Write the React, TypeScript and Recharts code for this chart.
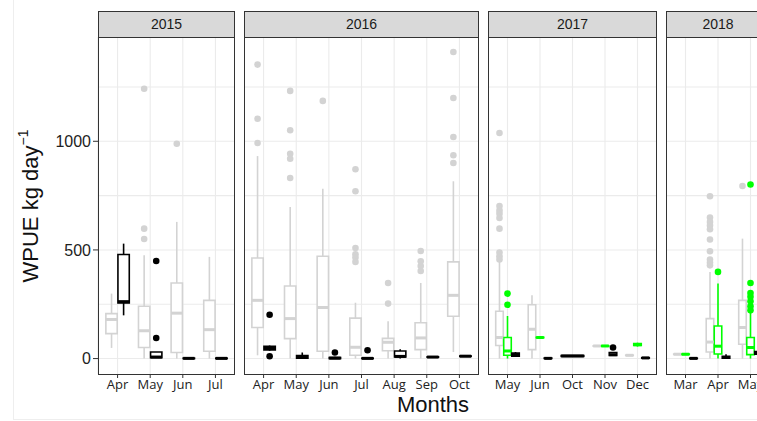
import React from 'react'
import {
  ComposedChart, XAxis, YAxis, CartesianGrid,
  ReferenceArea, ReferenceLine, Scatter,
} from 'recharts'

// box = [lower whisker, q1, median, q3, upper whisker], null where a group has no data
type Box = [number, number, number, number, number] | null

// 2015
const months2015 = ['Apr', 'May', 'Jun', 'Jul']
const gray2015: Box[] = [[49, 115, 180, 207, 299], [0, 51, 128, 241, 475], [0, 28, 209, 348, 629], [0, 34, 133, 268, 468]]
const green2015: Box[] = [null, null, null, null]
const black2015: Box[] = [[199, 256, 262, 479, 529], [3, 4, 7, 30, 30], [0, 0, 1, 2, 4], [0, 0, 1, 2, 4]]
const grayOut2015 = [[], [1242, 598, 550], [989], []]
const greenOut2015 = [[], [], [], []]
const blackOut2015 = [[], [449, 95], [], []]

// 2016
const months2016 = ['Apr', 'May', 'Jun', 'Jul', 'Aug', 'Sep', 'Oct']
const gray2016: Box[] = [
  [15, 143, 268, 463, 932], [0, 92, 184, 334, 698], [0, 34, 235, 471, 782], [0, 15, 52, 186, 257],
  [0, 36, 75, 93, 172], [0, 41, 95, 165, 348], [30, 195, 291, 445, 816],
]
const green2016: Box[] = [null, null, null, null, null, null, null]
const black2016: Box[] = [
  [36, 40, 49, 56, 60], [0, 2, 6, 14, 28], [0, 0, 2, 5, 8], [0, 0, 1, 2, 4],
  [0, 7, 10, 35, 43], [5, 6, 7, 8, 9], [9, 10, 11, 12, 13],
]
const grayOut2016 = [
  [1353, 1104, 992], [1232, 1051, 943, 920, 831], [1186], [871, 770, 509, 480, 465, 445],
  [348, 253], [495, 448, 426, 403], [1411, 1199, 1020, 936, 900],
]
const greenOut2016 = [[], [], [], [], [], [], []]
const blackOut2016 = [[202, 11], [], [28], [38], [], [], []]

// 2017
const months2017 = ['May', 'Jun', 'Oct', 'Nov', 'Dec']
const gray2017: Box[] = [[0, 60, 97, 218, 445], [0, 41, 135, 248, 291], null, [56, 57, 58, 59, 60], [13, 14, 15, 16, 17]]
const green2017: Box[] = [[0, 15, 35, 97, 196], [95, 96, 97, 98, 99], null, [56, 57, 58, 59, 60], [55, 60, 64, 69, 73]]
const black2017: Box[] = [[8, 11, 16, 25, 30], [0, 0, 1, 2, 3], [9, 10, 12, 14, 15], [12, 14, 18, 28, 30], [1, 2, 3, 4, 5]]
const grayOut2017 = [[1038, 702, 682, 667, 647, 598, 488, 471, 456], [], [], [], []]
const greenOut2017 = [[299, 248], [], [], [], []]
const blackOut2017 = [[], [], [], [51], []]

// 2018
const months2018 = ['Mar', 'Apr', 'May']
const gray2018: Box[] = [[18, 19, 20, 21, 22], [0, 30, 76, 184, 399], [0, 66, 143, 268, 552]]
const green2018: Box[] = [[18, 19, 20, 21, 22], [0, 21, 57, 150, 345], [0, 18, 51, 97, 210]]
const black2018: Box[] = [[0, 0, 1, 2, 3], [0, 2, 5, 11, 20], [0, 20, 26, 32, 40]]
const grayOut2018 = [[], [747, 649, 629, 613, 595, 548, 494, 456, 442, 429], [794]]
const greenOut2018 = [[], [399], [801, 348, 302, 284, 264, 241, 222]]
const blackOut2018 = [[], [], []]

const yTicks = [0, 500, 1000]
const yGrid = [0, 250, 500, 750, 1000, 1250]
const Y_DOMAIN: [number, number] = [-71, 1480]

const COLORS = ['#d3d3d3', '#00ff00', '#000000']
const DODGE = 0.74
const PLOT_TOP = 37
const PLOT_H = 337
const X_H = 30
const Y_W = 60
const FONT = '"Liberation Sans", Arial, sans-serif'

const PANELS = [
  { year: '2015', months: months2015, boxes: [gray2015, green2015, black2015], out: [grayOut2015, greenOut2015, blackOut2015], left: 98, width: 137 },
  { year: '2016', months: months2016, boxes: [gray2016, green2016, black2016], out: [grayOut2016, greenOut2016, blackOut2016], left: 244, width: 235 },
  { year: '2017', months: months2017, boxes: [gray2017, green2017, black2017], out: [grayOut2017, greenOut2017, blackOut2017], left: 488, width: 169 },
  { year: '2018', months: months2018, boxes: [gray2018, green2018, black2018], out: [grayOut2018, greenOut2018, blackOut2018], left: 666, width: 104 },
]

type Panel = typeof PANELS[number]

function FacetPanel({ p, first }: { p: Panel; first: boolean }) {
  const n = p.months.length
  const ticks = p.months.map((_, i) => i + 1)
  const yW = first ? Y_W : 0

  // dodge the groups present at each month, like position_dodge
  const marks: { g: number; i: number; cx: number; w: number; s: number[] }[] = []
  p.months.forEach((_, i) => {
    const present = [0, 1, 2].filter((g) => p.boxes[g][i])
    const w = DODGE / present.length
    present.forEach((g, j) => {
      marks.push({ g, i, cx: i + 1 - DODGE / 2 + (j + 0.5) * w, w, s: p.boxes[g][i] as number[] })
    })
  })
  const points = [0, 1, 2].map((g) =>
    marks.filter((m) => m.g === g).flatMap((m) => p.out[g][m.i].map((v) => ({ x: m.cx, y: v }))),
  )

  return (
    <>
      <div
        style={{
          position: 'absolute', left: p.left, top: 11, width: p.width, height: 27,
          boxSizing: 'border-box', background: '#d9d9d9', border: '1px solid #333',
          font: `14px ${FONT}`, color: '#1a1a1a', textAlign: 'center', lineHeight: '25px',
        }}
      >
        {p.year}
      </div>
      <div style={{ position: 'absolute', left: p.left - yW, top: PLOT_TOP }}>
        <ComposedChart width={p.width + yW} height={PLOT_H + X_H} margin={{ top: 0, right: 0, bottom: 0, left: 0 }}>
          <CartesianGrid stroke="#ebebeb" strokeWidth={1.1} horizontalValues={yGrid} />
          <XAxis
            type="number" dataKey="x" domain={[0.4, n + 0.6]} ticks={ticks} interval={0}
            allowDataOverflow tickFormatter={(v: number) => p.months[v - 1]}
            axisLine={false} tickSize={4} tickMargin={2} tickLine={{ stroke: '#333' }}
            tick={{ fontSize: 13, fill: '#222', fontFamily: '"Open Sans", sans-serif' }} height={X_H}
          />
          <YAxis
            type="number" dataKey="y" domain={Y_DOMAIN} allowDataOverflow ticks={yTicks} hide={!first}
            width={Y_W} axisLine={false} tickSize={5} tickMargin={2} tickLine={{ stroke: '#333' }}
            tick={{ fontSize: 16, fill: '#222', fontFamily: FONT }}
          />
          {marks.map((m, k) => {
            const c = COLORS[m.g]
            const [lo, q1, med, q3, hi] = m.s
            const half = (m.w / 2) * 0.94
            return (
              <React.Fragment key={k}>
                <ReferenceLine segment={[{ x: m.cx, y: lo }, { x: m.cx, y: q1 }]} stroke={c} strokeWidth={1.6} />
                <ReferenceLine segment={[{ x: m.cx, y: q3 }, { x: m.cx, y: hi }]} stroke={c} strokeWidth={1.6} />
                <ReferenceArea
                  x1={m.cx - half} x2={m.cx + half} y1={q1} y2={q3}
                  fill="#fff" fillOpacity={1} stroke={c} strokeWidth={1.6}
                />
                <ReferenceLine segment={[{ x: m.cx - half, y: med }, { x: m.cx + half, y: med }]} stroke={c} strokeWidth={3} />
              </React.Fragment>
            )
          })}
          {points.map((d, g) => (
            <Scatter
              key={g} data={d} isAnimationActive={false}
              shape={(sp: any) => <circle cx={sp.cx} cy={sp.cy} r={3.3} fill={COLORS[g]} />}
            />
          ))}
        </ComposedChart>
      </div>
      <div
        style={{
          position: 'absolute', left: p.left, top: PLOT_TOP, width: p.width, height: PLOT_H + 1,
          boxSizing: 'border-box', border: '1px solid #333', pointerEvents: 'none',
        }}
      />
    </>
  )
}

export default function App() {
  return (
    <div style={{ position: 'absolute', left: 0, top: 0, width: 757, height: 421, overflow: 'hidden', background: '#fff' }}>
      <svg width={757} height={421} style={{ position: 'absolute', left: 0, top: 0 }}>
        <line x1={13.5} y1={0} x2={13.5} y2={420} stroke="#eeeeee" />
        <line x1={13} y1={419.5} x2={757} y2={419.5} stroke="#eeeeee" />
        <text x={433} y={412} textAnchor="middle" fontSize={22} fontFamily={FONT} fill="#111">Months</text>
        <text transform="translate(37.5, 206) rotate(-90)" textAnchor="middle" fontSize={22} fontFamily={FONT} fill="#111">
          WPUE kg day<tspan dy={-10} fontSize={14}>−1</tspan>
        </text>
      </svg>
      {PANELS.map((p, i) => (
        <FacetPanel key={p.year} p={p} first={i === 0} />
      ))}
    </div>
  )
}
